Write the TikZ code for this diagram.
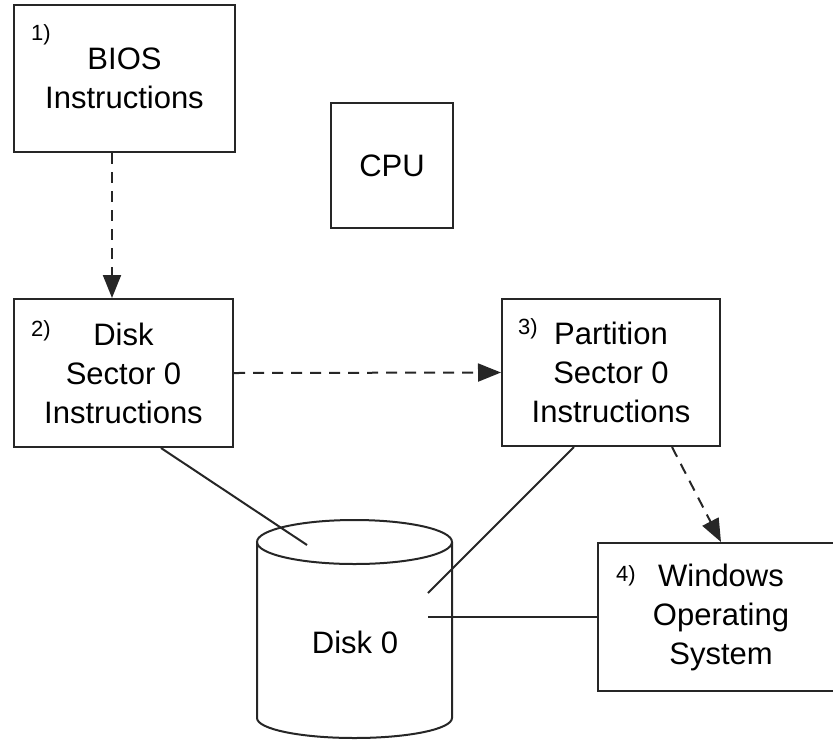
\documentclass[tikz,border=0pt]{standalone}
\usepackage{fontspec}
\setmainfont{Liberation Sans}
\usetikzlibrary{arrows.meta, positioning}
\definecolor{lineGray}{gray}{0.15}

\begin{document}
\begin{tikzpicture}[x=1pt, y=-1pt, >={Triangle[length=23pt, width=18pt]},
    box/.style={draw=lineGray, line width=2pt, align=center, inner sep=0pt,
        font=\fontsize{31}{39}\selectfont},
    tag/.style={inner sep=0pt, font=\fontsize{22}{26}\selectfont},
    flow/.style={->, lineGray, line width=2pt, dash pattern=on 11pt off 8pt},
    wire/.style={lineGray, line width=2pt}]
    \useasboundingbox (0,0) rectangle (833,740);
    \clip (0,0) rectangle (833,740);

    % boxes
    \node[box, minimum width=221pt, minimum height=147pt] (bios) at (124.5,78.5) {BIOS\\Instructions};
    \node[box, minimum width=122pt, minimum height=125pt] (cpu) at (392,165.5) {CPU};
    \node[box, minimum width=219pt, minimum height=148pt] (dsec) at (123.5,373) {Disk\\Sector 0\\Instructions};
    \node[box, minimum width=218pt, minimum height=147pt] (psec) at (611,372.5) {Partition\\Sector 0\\Instructions};
    \node[box, minimum width=246pt, minimum height=148pt] (win) at (721,617) {Windows\\Operating\\System};

    \node[tag] (n1) at (41,35) {1)};
    \node[tag] (n2) at (41,331) {2)};
    \node[tag] (n3) at (528,329) {3)};
    \node[tag] (n4) at (626,576) {4)};

    % disk
    \draw[wire] (354.5,542) ellipse [x radius=97.5pt, y radius=22pt];
    \draw[wire] (257,542) -- (257,718) arc [start angle=180, end angle=360, x radius=97.5pt, y radius=20pt] -- (452,542);
    \node[font=\fontsize{31}{39}\selectfont] (disk) at (355,642) {Disk 0};
    \coordinate (dtop) at (307,545);
    \coordinate (dmid) at (428,593);
    \coordinate (dside) at (428,617);

    % boot order
    \draw[flow] ([xshift=-12.5pt]bios.south) -- ([xshift=-12.5pt]bios.south |- dsec.north);
    \draw[flow] (dsec.east) -- (psec.west);
    \draw[flow] ([xshift=61pt]psec.south) -- (win.north);

    % links to disk
    \draw[wire] ([xshift=37.5pt]dsec.south) -- (dtop);
    \draw[wire] ([xshift=-37pt]psec.south) -- (dmid);
    \draw[wire] (win.west) -- (dside);
\end{tikzpicture}
\end{document}
